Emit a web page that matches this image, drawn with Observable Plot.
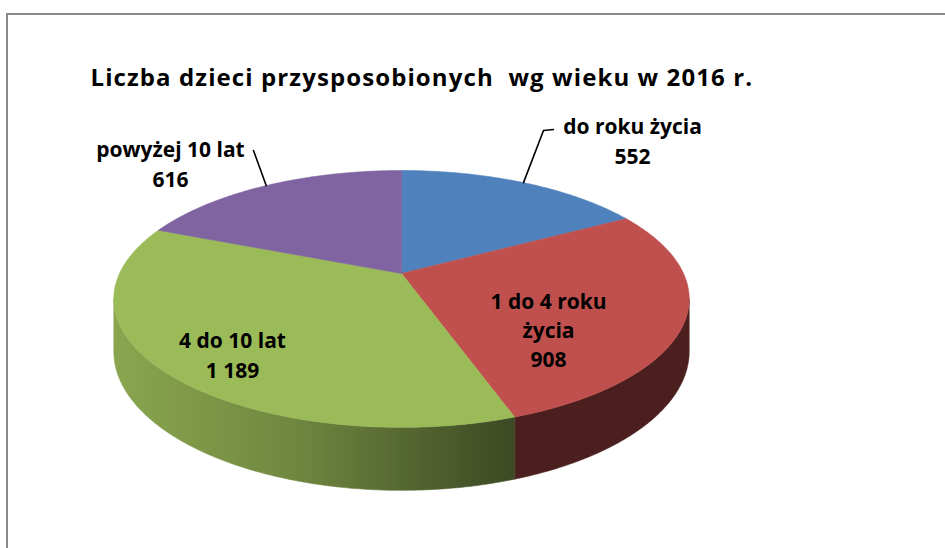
<!DOCTYPE html>
<html><head><meta charset="utf-8">
<script src="https://cdn.jsdelivr.net/npm/d3@7"></script>
<script src="https://cdn.jsdelivr.net/npm/@observablehq/plot@0.6"></script>
<style>
body{margin:0;background:#fff;}
#wrap{position:relative;width:945px;height:548px;overflow:hidden;background:#fff;}
#frame{position:absolute;left:6px;top:13px;right:-10px;bottom:-10px;border-top:2px solid #8a8a8a;border-left:2px solid #8a8a8a;}
#chart{position:absolute;left:0;top:0;}
</style></head><body>
<div id="wrap"><div id="frame"></div><div id="chart"></div></div>
<script>
// ---- data ----
const categories = ["do roku życia", "1 do 4 roku życia", "4 do 10 lat", "powyżej 10 lat"];
const values = [552, 908, 1189, 616];
const valueLabels = ["552", "908", "1 189", "616"];
const labelTexts = ["do roku życia", "1 do 4 roku\nżycia", "4 do 10 lat", "powyżej 10 lat"];
const colors = ["#4f81bd", "#c0504d", "#9bbb59", "#8064a2"];
const title = "Liczba dzieci przysposobionych  wg wieku w 2016 r.";

// ---- layout ----
const CX = 401, CY = 273, R = 282, B = 123.4, K = 0.198, D0 = 50.5;
const FONT = "'Open Sans', Lato, sans-serif";
const labelPos = [[632, 139], [548, 328], [232, 353], [170, 162]];
const leaderBends = [[[543, 130], [553, 129]], [], [], [[253, 150]]];

function proj(a, r = 1) {
  const u = Math.sin(a) * r, s = -Math.cos(a) * r;
  const f = 1 / (1 - K * s);
  return {x: CX + R * u * f, y: CY + B * s * f, f, s};
}

const total = d3.sum(values);
let acc = 0;
const slices = values.map((v, i) => {
  const a0 = acc / total * 2 * Math.PI;
  acc += v;
  const a1 = acc / total * 2 * Math.PI;
  return {i, a0, a1, mid: (a0 + a1) / 2};
});

// top faces
const topRows = [];
for (const sl of slices) {
  topRows.push({id: sl.i, x: CX, y: CY, c: colors[sl.i]});
  const n = Math.max(2, Math.ceil((sl.a1 - sl.a0) / (Math.PI / 360)));
  for (let j = 0; j <= n; j++) {
    const p = proj(sl.a0 + (sl.a1 - sl.a0) * j / n);
    topRows.push({id: sl.i, x: p.x, y: p.y, c: colors[sl.i]});
  }
}

// visible side walls (front part, beyond the perspective silhouette)
const visLo = Math.acos(-K), visHi = 2 * Math.PI - Math.acos(-K);
const sideSets = [];
for (const sl of slices) {
  const lo = Math.max(sl.a0, visLo), hi = Math.min(sl.a1, visHi);
  if (hi <= lo) continue;
  const n = Math.max(2, Math.ceil((hi - lo) / (Math.PI / 360)));
  const top = [], bot = [];
  for (let j = 0; j <= n; j++) {
    const p = proj(lo + (hi - lo) * j / n);
    top.push({x: p.x, y: p.y});
    bot.push({x: p.x, y: p.y + D0 * p.f});
  }
  sideSets.push({i: sl.i, rows: top.concat(bot.reverse())});
}

function scaled(base, k) {
  const c = d3.rgb(base);
  return d3.rgb(c.r * k, c.g * k, c.b * k).formatHex();
}
function gradientDefs() {
  const defs = d3.create("svg:defs");
  colors.forEach((col, i) => {
    const g = defs.append("linearGradient").attr("id", "sidegrad" + i)
      .attr("gradientUnits", "userSpaceOnUse")
      .attr("x1", CX - R * 1.02).attr("x2", CX + 112).attr("y1", 0).attr("y2", 0);
    g.append("stop").attr("offset", 0).attr("stop-color", scaled(col, 0.89));
    g.append("stop").attr("offset", 0.45).attr("stop-color", scaled(col, 0.72));
    g.append("stop").attr("offset", 1).attr("stop-color", scaled(col, 0.39));
  });
  return defs.node();
}

// leader lines for outside labels
const leaderRows = [];
slices.forEach(sl => {
  if (!leaderBends[sl.i].length) return;
  const p = proj(sl.mid);
  leaderRows.push({id: sl.i, x: p.x, y: p.y});
  leaderBends[sl.i].forEach(([x, y]) => leaderRows.push({id: sl.i, x, y}));
});

const labelRows = slices.map(sl => ({
  x: labelPos[sl.i][0], y: labelPos[sl.i][1],
  text: labelTexts[sl.i] + "\n" + valueLabels[sl.i]
}));

const chart = Plot.plot({
  width: 945, height: 548, margin: 0,
  x: {type: "identity", axis: null},
  y: {type: "identity", axis: null},
  color: {type: "identity"},
  style: {background: "transparent", fontFamily: FONT},
  marks: [
    gradientDefs,
    ...sideSets.map(s => Plot.line(s.rows, {x: "x", y: "y", fill: `url(#sidegrad${s.i})`, stroke: `url(#sidegrad${s.i})`, strokeWidth: 0.6, curve: "linear-closed"})),
    Plot.line(topRows, {x: "x", y: "y", z: "id", fill: "c", stroke: "c", strokeWidth: 0.6, curve: "linear-closed"}),
    Plot.line(leaderRows, {x: "x", y: "y", z: "id", stroke: "#000", strokeWidth: 1.6}),
    Plot.text(labelRows, {x: "x", y: "y", text: "text", fontSize: 21, fontWeight: "bold", fill: "#000", lineHeight: 1.4, fontFamily: FONT}),
    Plot.text([title], {x: () => 90, y: () => 78, text: d => d, textAnchor: "start", fontSize: 24, fontWeight: "bold", fill: "#000", fontFamily: FONT})
  ]
});
d3.select(chart).selectAll("text").filter(function () { return this.textContent === title; })
  .attr("letter-spacing", "1.1px");
document.getElementById("chart").appendChild(chart);
</script>
</body></html>
